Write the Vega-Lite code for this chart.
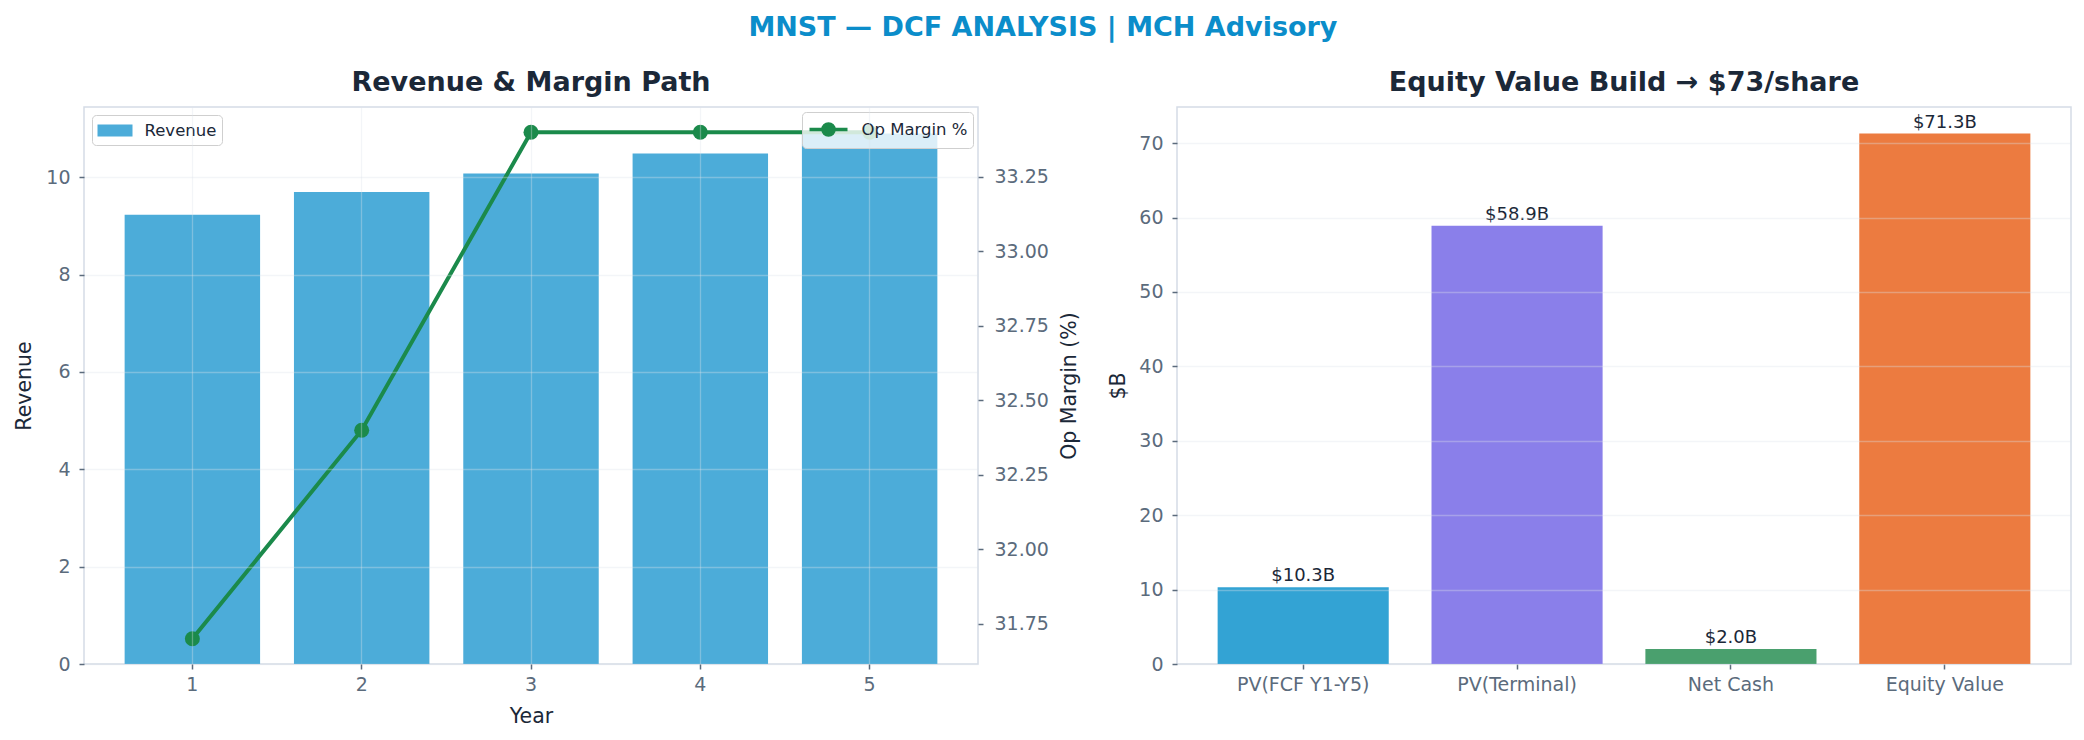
{
  "$schema": "https://vega.github.io/schema/vega-lite/v6.json",
  "padding": {"left": 14, "right": 15, "top": 14, "bottom": 8},
  "background": "white",
  "title": {
    "text": "MNST — DCF ANALYSIS | MCH Advisory",
    "fontSize": 27,
    "fontWeight": "bold",
    "color": "#0b8dca",
    "anchor": "middle",
    "offset": 26
  },
  "config": {
    "font": "DejaVu Sans",
    "view": {"stroke": "#d5dce6", "strokeWidth": 1.5},
    "concat": {"spacing": 27},
    "axis": {
      "domain": false,
      "labelFont": "DejaVu Sans",
      "labelFontSize": 19,
      "labelColor": "#5b6b7c",
      "labelPadding": 6,
      "tickColor": "#5b6b7c",
      "tickSize": 5,
      "tickWidth": 1.5,
      "titleFont": "DejaVu Sans",
      "titleFontSize": 20.5,
      "titleFontWeight": "normal",
      "titleColor": "#1b2838",
      "gridColor": "#dde3ea",
      "gridOpacity": 0.35,
      "gridWidth": 1.3
    },
    "title": {"font": "DejaVu Sans", "fontSize": 27, "fontWeight": "bold", "color": "#1b2838", "offset": 10, "anchor": "middle"},
    "legend": {
      "labelFont": "DejaVu Sans",
      "labelFontSize": 16.5,
      "labelColor": "#1b2838",
      "fillColor": "rgba(255,255,255,0.8)",
      "strokeColor": "#cfcfcf",
      "cornerRadius": 4,
      "padding": 5.5,
      "symbolSize": 400
    }
  },
  "hconcat": [
    {
      "width": 894,
      "height": 557,
      "title": "Revenue & Margin Path",
      "data": {
        "values": [
          {"Year": 1, "Revenue": 9.23, "OpMargin": 31.7},
          {"Year": 2, "Revenue": 9.70, "OpMargin": 32.4},
          {"Year": 3, "Revenue": 10.08, "OpMargin": 33.4},
          {"Year": 4, "Revenue": 10.49, "OpMargin": 33.4},
          {"Year": 5, "Revenue": 10.90, "OpMargin": 33.4}
        ]
      },
      "encoding": {
        "x": {
          "field": "Year",
          "type": "ordinal",
          "scale": {"paddingInner": 0.2, "paddingOuter": 0.24},
          "axis": {"labelAngle": 0, "grid": true, "zindex": 1, "title": "Year", "bandPosition": 0.5, "titlePadding": 12}
        }
      },
      "layer": [
        {
          "mark": {"type": "bar", "color": "#4cacd9"},
          "encoding": {
            "y": {
              "field": "Revenue",
              "type": "quantitative",
              "scale": {"domain": [0, 11.445], "nice": false},
              "axis": {"values": [0, 2, 4, 6, 8, 10], "grid": true, "zindex": 1, "labelPadding": 9, "title": "Revenue", "titlePadding": 11}
            },
            "color": {
              "datum": "Revenue",
              "scale": {"range": ["#4cacd9"]},
              "legend": {
                "title": null,
                "orient": "top-left",
                "offset": 8,
                "symbolType": "M-1,-0.6H2.5V0.6H-1Z",
                "symbolStrokeWidth": 0,
                "labelOffset": 27
              }
            }
          }
        },
        {
          "mark": {"type": "line", "strokeWidth": 4, "point": {"filled": true, "size": 225, "opacity": 1}},
          "encoding": {
            "y": {
              "field": "OpMargin",
              "type": "quantitative",
              "scale": {"domain": [31.615, 33.485], "nice": false, "zero": false},
              "axis": {
                "orient": "right",
                "values": [31.75, 32.0, 32.25, 32.5, 32.75, 33.0, 33.25],
                "format": ".2f",
                "grid": false,
                "labelPadding": 11,
                "title": "Op Margin (%)",
                "titleAngle": 270,
                "titleBaseline": "top",
                "titlePadding": 11
              }
            },
            "color": {
              "datum": "Op Margin %",
              "scale": {"range": ["#1b8a4b"]},
              "legend": {
                "title": null,
                "orient": "top-right",
                "offset": 5,
                "symbolType": "M-1,0H2.8M0.35,0A0.55,0.55,0,1,0,1.45,0A0.55,0.55,0,1,0,0.35,0Z",
                "labelOffset": 30,
                "encode": {
                  "symbols": {
                    "update": {
                      "fill": {"value": "#1b8a4b"},
                      "stroke": {"value": "#1b8a4b"},
                      "strokeWidth": {"value": 3.6},
                      "opacity": {"value": 1}
                    }
                  }
                }
              }
            }
          }
        }
      ],
      "resolve": {"scale": {"y": "independent", "color": "independent"}}
    },
    {
      "width": 894,
      "height": 557,
      "title": "Equity Value Build → $73/share",
      "data": {
        "values": [
          {"Component": "PV(FCF Y1-Y5)", "Value": 10.3, "Label": "$10.3B"},
          {"Component": "PV(Terminal)", "Value": 58.9, "Label": "$58.9B"},
          {"Component": "Net Cash", "Value": 2.0, "Label": "$2.0B"},
          {"Component": "Equity Value", "Value": 71.3, "Label": "$71.3B"}
        ]
      },
      "encoding": {
        "x": {
          "field": "Component",
          "type": "nominal",
          "sort": null,
          "scale": {"paddingInner": 0.2, "paddingOuter": 0.19},
          "axis": {"labelAngle": 0, "title": null, "grid": false}
        },
        "y": {
          "field": "Value",
          "type": "quantitative",
          "scale": {"domain": [0, 74.865], "nice": false},
          "axis": {"values": [0, 10, 20, 30, 40, 50, 60, 70], "grid": true, "zindex": 1, "labelPadding": 9, "title": "$B", "titlePadding": 10}
        }
      },
      "layer": [
        {
          "mark": {"type": "bar"},
          "encoding": {
            "color": {
              "field": "Component",
              "type": "nominal",
              "sort": null,
              "scale": {
                "domain": ["PV(FCF Y1-Y5)", "PV(Terminal)", "Net Cash", "Equity Value"],
                "range": ["#33a3d4", "#8a7fea", "#4aa06e", "#ec7b40"]
              },
              "legend": null
            }
          }
        },
        {
          "mark": {"type": "text", "baseline": "bottom", "dy": -2, "fontSize": 18, "color": "#1b2838"},
          "encoding": {"text": {"field": "Label"}}
        }
      ]
    }
  ]
}
